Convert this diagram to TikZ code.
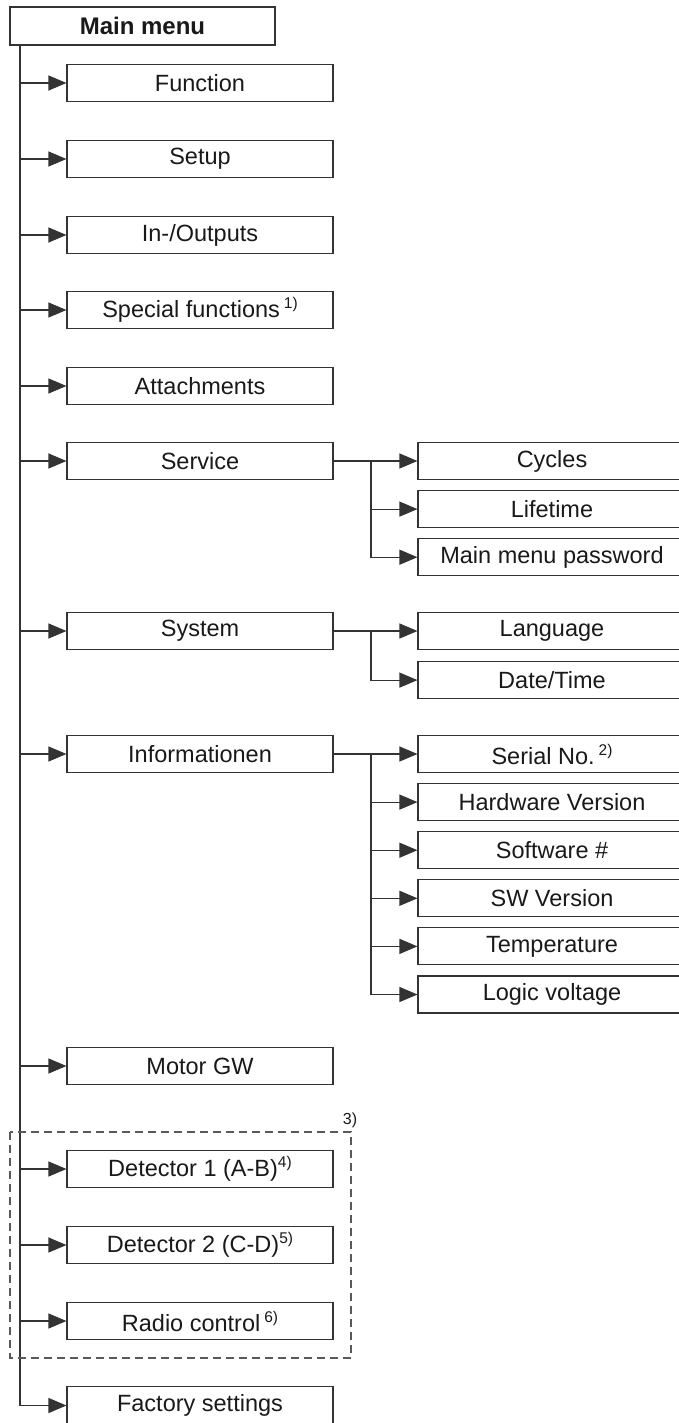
\documentclass[tikz,border=0pt]{standalone}
\usepackage{fontspec}
\setmainfont{Liberation Sans}
\usetikzlibrary{arrows.meta, positioning}
\newcommand{\fnmark}[1]{\raisebox{9pt}{\fontsize{15.5}{15.5}\selectfont #1}}

\begin{document}
\begin{tikzpicture}[x=1pt, y=-1pt, node distance=10pt,
      menubox/.style={rectangle, draw=black!80, line width=1.1pt, minimum width=266pt, minimum height=37.5pt, inner sep=0pt, align=center, font=\fontsize{23.5}{23.5}\selectfont, text=black!90},
      subbox/.style={menubox, minimum width=268pt, minimum height=37pt},
      topbox/.style={menubox, minimum width=265pt, minimum height=38pt, font=\fontsize{24}{24}\selectfont\bfseries},
      link/.style={draw=black!80, line width=1.1pt},
      arr/.style={link, -{Triangle[length=18pt, width=15pt]}},
      optframe/.style={draw=black!65, line width=2pt, dash pattern=on 8pt off 5pt}]
      \useasboundingbox (0,0) rectangle (678,1423);
      % main column
      \node[topbox] (main) at (142.5,26) {Main menu};
      \node[menubox] (func) at (200,83) {Function};
      \node[menubox] (setup) at (200,159) {Setup};
      \node[menubox] (inout) at (200,235) {In-/Outputs};
      \node[menubox] (special) at (200,310) {Special functions\,\fnmark{1)}};
      \node[menubox] (attach) at (200,386) {Attachments};
      \node[menubox] (service) at (200,461) {Service};
      \node[menubox] (system) at (200,631) {System};
      \node[menubox] (info) at (200,754) {Informationen};
      \node[menubox] (motor) at (200,1066) {Motor GW};
      \node[menubox] (det1) at (200,1169) {Detector 1 (A-B)\fnmark{4)}};
      \node[menubox] (det2) at (200,1245) {Detector 2 (C-D)\fnmark{5)}};
      \node[menubox] (radio) at (200,1321) {Radio control\,\fnmark{6)}};
      \node[menubox] (factory) at (200,1405.5) {Factory settings};
      % sub menus
      \node[subbox] (cycles) at (552,461) {Cycles};
      \node[subbox, below=of cycles] (lifetime) {Lifetime};
      \node[subbox, below=of lifetime] (mmpw) {Main menu password};
      \node[subbox] (lang) at (552,631) {Language};
      \node[subbox, below=11pt of lang] (datetime) {Date/Time};
      \node[subbox] (serial) at (552,754) {Serial No.\,\fnmark{2)}};
      \node[subbox, below=of serial] (hwver) {Hardware Version};
      \node[subbox, below=of hwver] (swnum) {Software \#};
      \node[subbox, below=of swnum] (swver) {SW Version};
      \node[subbox, below=of swver] (temp) {Temperature};
      \node[subbox, below=of temp] (logic) {Logic voltage};
      % trunk
      \coordinate (tr) at (20,0);
      \draw[arr] (tr |- main.south) |- (factory.west);
      \foreach \n in {func,setup,inout,special,attach,service,system,info,motor,det1,det2,radio}
        \draw[arr] (tr |- \n.west) -- (\n.west);
      % branches
      \coordinate (sj) at (371,0);
      \draw[arr] (service) -- (cycles);
      \draw[arr] (sj |- service.east) |- (mmpw.west);
      \draw[arr] (sj |- lifetime.west) -- (lifetime.west);
      \draw[arr] (system) -- (lang);
      \draw[arr] (sj |- system.east) |- (datetime.west);
      \draw[arr] (info) -- (serial);
      \draw[arr] (sj |- info.east) |- (logic.west);
      \foreach \n in {hwver,swnum,swver,temp}
        \draw[arr] (sj |- \n.west) -- (\n.west);
      % optional group
      \coordinate (fr1) at (10,1132);
      \coordinate (fr2) at (351,1358);
      \draw[optframe] (fr1) rectangle (fr2);
      \node[font=\fontsize{16}{16}\selectfont, text=black!90] (fn3) at (350,1120) {3)};
\end{tikzpicture}
\end{document}
